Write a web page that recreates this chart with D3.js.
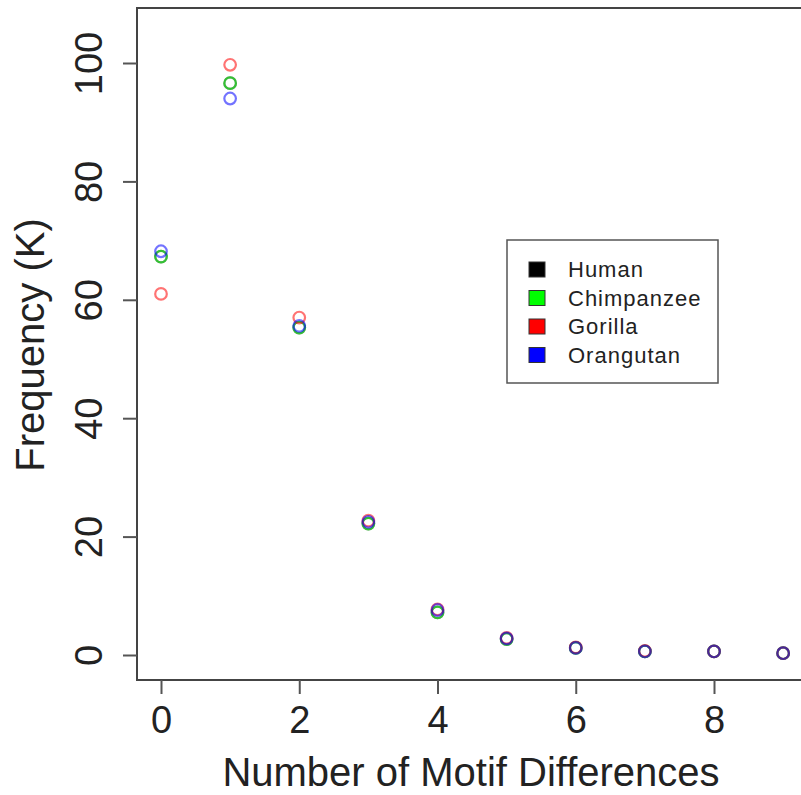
<!DOCTYPE html>
<html><head><meta charset="utf-8">
<script src="https://cdn.jsdelivr.net/npm/d3@7"></script>
<style>body{margin:0;background:#fff}svg{display:block}text{font-family:"Liberation Sans",Arial,Helvetica,sans-serif;fill:#222}</style>
</head><body>
<svg id="c" width="801" height="795"></svg>
<script>
const diffs = [0,1,2,3,4,5,6,7,8,9];
const human =      [67.3, 96.6, 55.3, 22.2, 7.2, 2.7, 1.2, 0.6, 0.6, 0.3];
const chimpanzee = [67.3, 96.6, 55.3, 22.2, 7.2, 2.7, 1.2, 0.6, 0.6, 0.3];
const gorilla =    [61.0, 99.7, 57.0, 22.7, 7.7, 2.9, 1.3, 0.7, 0.6, 0.3];
const orangutan =  [68.2, 94.0, 55.6, 22.5, 7.6, 2.8, 1.2, 0.6, 0.6, 0.3];
const seriesNames = ["Human","Chimpanzee","Gorilla","Orangutan"];
const seriesColors = ["#000000","#00ff00","#ff0000","#0000ff"];
const seriesValues = [human, chimpanzee, gorilla, orangutan];
const xTicks = [0,2,4,6,8];
const yTicks = [0,20,40,60,80,100];

const svg = d3.select("#c");
const x = d3.scaleLinear().domain([0,8]).range([161,714]);
const y = d3.scaleLinear().domain([0,100]).range([655,63]);

// box
svg.append("rect").attr("x",137).attr("y",8).attr("width",700).attr("height",672)
  .attr("fill","none").attr("stroke","#444").attr("stroke-width",2);

// points
seriesValues.forEach((vals,i)=>{
  svg.append("g").selectAll("circle").data(vals).join("circle")
    .attr("cx",(d,j)=>x(diffs[j])).attr("cy",d=>y(d)).attr("r",5.8)
    .attr("fill","none").attr("stroke",seriesColors[i]).attr("stroke-opacity",0.55).attr("stroke-width",2.2);
});

// x axis
const xa = svg.append("g").attr("transform","translate(0,680)")
  .call(d3.axisBottom(x).tickValues(xTicks).tickSize(14).tickFormat(d3.format("d")));
xa.select(".domain").remove();
xa.selectAll("line").attr("stroke","#555").attr("stroke-width",2);
xa.selectAll("text").attr("font-size",38).style("fill","#222").attr("y",53).attr("dy",0);

// y axis
const ya = svg.append("g").attr("transform","translate(137,0)")
  .call(d3.axisLeft(y).tickValues(yTicks).tickSize(14).tickPadding(0).tickFormat(d3.format("d")));
ya.select(".domain").remove();
ya.selectAll("line").attr("stroke","#555").attr("stroke-width",2);
ya.selectAll("text").attr("font-size",38).style("fill","#222")
  .attr("x",0).attr("dy",0).attr("text-anchor","middle")
  .attr("transform","translate(-35,0) rotate(-90)");

// axis titles
svg.append("text").attr("x",471).attr("y",786).attr("text-anchor","middle")
  .attr("font-size",40).text("Number of Motif Differences");
svg.append("text").attr("transform","translate(44,345) rotate(-90)").attr("text-anchor","middle")
  .attr("font-size",40).text("Frequency (K)");

// legend
const lg = svg.append("g");
lg.append("rect").attr("x",507).attr("y",240).attr("width",211).attr("height",143)
  .attr("fill","#fff").attr("stroke","#555").attr("stroke-width",1.5);
seriesNames.forEach((n,i)=>{
  const cy = 270 + i*28.5;
  lg.append("rect").attr("x",529).attr("y",cy-8).attr("width",16).attr("height",15)
    .attr("fill",seriesColors[i]).attr("stroke","#333").attr("stroke-width",1);
  lg.append("text").attr("x",568).attr("y",cy+7).attr("font-size",22)
    .attr("letter-spacing",1.0).text(n);
});
</script>
</body></html>
